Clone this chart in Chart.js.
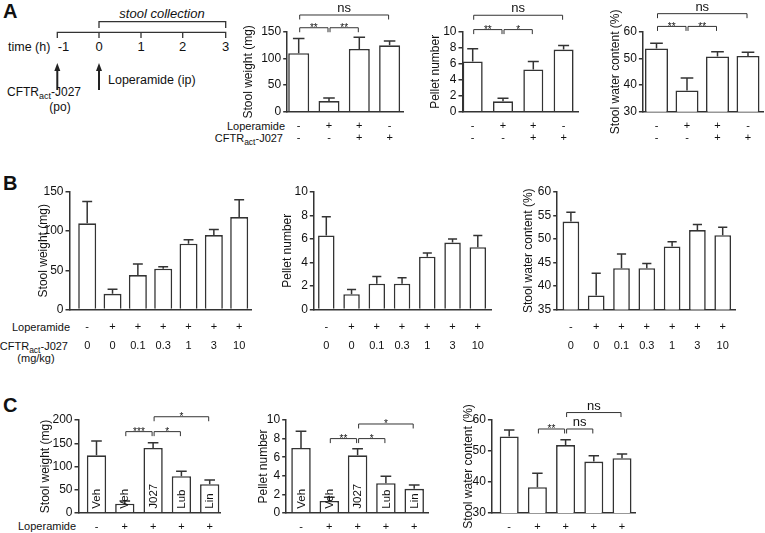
<!DOCTYPE html>
<html><head><meta charset="utf-8">
<script src="https://cdn.jsdelivr.net/npm/chart.js@4"></script>
<style>
body{margin:0;background:#fff;width:765px;height:533px;position:relative;overflow:hidden;font-family:"Liberation Sans",Arial,sans-serif;color:#111}
canvas{position:absolute}
svg{position:absolute;left:0;top:0}
</style></head><body>
<svg width="765" height="533" font-family="Liberation Sans, Arial, sans-serif" fill="#111">
  <text x="3" y="18" font-weight="bold" font-size="20">A</text>
  <text x="3" y="190" font-weight="bold" font-size="20">B</text>
  <text x="3" y="412" font-weight="bold" font-size="20">C</text>
  <text x="162" y="17.5" font-style="italic" font-size="13" text-anchor="middle">stool collection</text>
  <path d="M99,28V21.7H225.7V28" stroke="#333" stroke-width="1.3" fill="none"/>
  <path d="M57.3,38V32.3H225.7V38M99,32.3V38M141,32.3V38M182.7,32.3V38" stroke="#333" stroke-width="1.3" fill="none"/>
  <text x="8" y="50.5" font-size="12.5">time (h)</text>
  <text x="63.5" y="50.5" font-size="13" text-anchor="middle">-1</text>
  <text x="99" y="50.5" font-size="13" text-anchor="middle">0</text>
  <text x="141" y="50.5" font-size="13" text-anchor="middle">1</text>
  <text x="182.7" y="50.5" font-size="13" text-anchor="middle">2</text>
  <text x="225.7" y="50.5" font-size="13" text-anchor="middle">3</text>
  <path d="M57.3,90V69M99,90V69" stroke="#222" stroke-width="2" fill="none"/>
  <polygon points="57.3,63 54.3,71 60.3,71" fill="#222"/>
  <polygon points="99,63 96,71 102,71" fill="#222"/>
  <text x="108" y="84" font-size="12.5">Loperamide (ip)</text>
  <text x="7" y="95.5" font-size="12">CFTR<tspan font-size="9" dy="3">act</tspan><tspan dy="-3">-J027</tspan></text>
  <text x="60" y="110.5" font-size="12" text-anchor="middle">(po)</text>
  <text x="285" y="129.5" font-size="11" text-anchor="end">Loperamide</text>
  <text x="283" y="142" font-size="11" text-anchor="end">CFTR<tspan font-size="8.5" dy="3">act</tspan><tspan dy="-3">-J027</tspan></text>
  <text x="70" y="331" font-size="11" text-anchor="end">Loperamide</text>
  <text x="68" y="350" font-size="11" text-anchor="end">CFTR<tspan font-size="8.5" dy="3">act</tspan><tspan dy="-3">-J027</tspan></text>
  <text x="36" y="362" font-size="11" text-anchor="middle">(mg/kg)</text>
  <text x="18" y="529.5" font-size="11">Loperamide</text>
</svg>
<script>
// ---------- DATA ----------
const groupsA = [['-','-'],['+','-'],['+','+'],['-','+']];
const weightA = [110, 20, 118, 125];
const weightA_err = [28, 6, 22, 8];
const pelletA = [6.3, 1.3, 5.3, 7.8];
const pelletA_err = [1.6, 0.4, 1.0, 0.5];
const waterA = [53.8, 38, 50.8, 51];
const waterA_err = [2, 4.7, 1.8, 1.4];
const sigA_weight = [[0,1,'**',158],[1,2,'**',158],[0,3,'ns',182]];
const sigA_pellet = [[0,1,'**',10.3],[1,2,'*',10.3],[0,3,'ns',12.1]];
const sigA_water = [[0,1,'**',62.1],[1,2,'**',62.1],[0,3,'ns',66.9]];

const groupsB = [['-','0'],['+','0'],['+','0.1'],['+','0.3'],['+','1'],['+','3'],['+','10']];
const weightB = [110, 20, 44, 52, 84, 95, 118];
const weightB_err = [28, 6, 14, 2.5, 5, 7, 22];
const pelletB = [6.3, 1.3, 2.2, 2.2, 4.5, 5.7, 5.3];
const pelletB_err = [1.6, 0.4, 0.6, 0.5, 0.3, 0.3, 1.0];
const waterB = [53.7, 38, 43.8, 43.8, 48.4, 51.9, 50.8];
const waterB_err = [2, 4.7, 3, 1, 1, 1.2, 1.7];

const groupsC = ['-','+','+','+','+'];
const treatC = ['Veh','Veh','J027','Lub','Lin'];
const weightC = [124, 20, 140, 79, 62];
const weightC_err = [31, 6, 11, 11, 9];
const pelletC = [7.0, 1.3, 6.2, 3.2, 2.6];
const pelletC_err = [1.8, 0.4, 0.7, 0.75, 0.4];
const waterC = [54.7, 38.3, 51.9, 46.6, 47.7];
const waterC_err = [2.1, 4.5, 1.7, 1.9, 1.3];
const sigC_weight = [[1,2,'***',175],[2,3,'*',175],[2,4,'*',207]];
const sigC_pellet = [[1,2,'**',8.0],[2,3,'*',8.0],[2,4,'*',9.57]];
const sigC_water = [[1,2,'**',57.1],[2,3,'ns',57.1],[2,4,'ns',62.4]];

// ---------- STYLE / LAYOUT ----------
const F = '"Liberation Sans", Arial, sans-serif';
const INK = '#333';
const TXT = '#111';

const annot = {
  id: 'annot',
  afterDatasetsDraw(chart, args, o) {
    const ctx = chart.ctx, meta = chart.getDatasetMeta(0), ys = chart.scales.y;
    const vals = chart.data.datasets[0].data;
    ctx.save();
    ctx.strokeStyle = INK; ctx.fillStyle = TXT; ctx.lineWidth = 1.5;
    meta.data.forEach((bar, i) => {
      const e = o.errs[i];
      const yt = ys.getPixelForValue(vals[i].y + e);
      const cw = bar.width * 0.55;
      ctx.beginPath();
      ctx.moveTo(bar.x, bar.y); ctx.lineTo(bar.x, yt);
      ctx.moveTo(bar.x - cw / 2, yt); ctx.lineTo(bar.x + cw / 2, yt);
      ctx.stroke();
      if (o.barText) {
        ctx.save();
        ctx.translate(bar.x, bar.base - 3.5);
        ctx.rotate(-Math.PI / 2);
        ctx.font = '11.5px ' + F;
        ctx.textAlign = 'left'; ctx.textBaseline = 'middle';
        ctx.fillText(o.barText[i], 0, 0.5);
        ctx.restore();
      }
    });
    ctx.lineWidth = 1;
    (o.sig || []).forEach(([a, b, lab, lv]) => {
      const xa = meta.data[a].x + 1, xb = meta.data[b].x - 1, y = ys.getPixelForValue(lv);
      ctx.beginPath();
      ctx.moveTo(xa, y + 4.5); ctx.lineTo(xa, y); ctx.lineTo(xb, y); ctx.lineTo(xb, y + 4.5);
      ctx.stroke();
      ctx.textAlign = 'center'; ctx.textBaseline = 'alphabetic';
      if (lab === 'ns') { ctx.font = '13px ' + F; ctx.fillText(lab, (xa + xb) / 2, y - 3); }
      else { ctx.font = '10px ' + F; ctx.fillText(lab, (xa + xb) / 2, y + 3.5); }
    });
    ctx.restore();
  }
};

function build(L, D) {
  const left = L.titleX - 7.2;
  const top = Math.max(0, L.top - 36);
  const right = L.xEnd + 8;
  const bottom = Math.min(533, L.bottom + 48);
  const cv = document.createElement('canvas');
  cv.width = Math.round(right - left); cv.height = Math.round(bottom - top);
  cv.style.left = left + 'px'; cv.style.top = top + 'px';
  document.body.appendChild(cv);
  const W = cv.width, H = cv.height;
  const Wy = L.axisX - left, padTop = L.top - top, padRight = W - (L.xEnd - left), Hx = H - (L.bottom - top);
  new Chart(cv, {
    type: 'bar',
    data: { datasets: [{
      data: D.values.map((v, i) => ({ x: i, y: v })),
      backgroundColor: '#fff', borderColor: INK, borderWidth: 1.6,
      barPercentage: L.barW / L.step, categoryPercentage: 1
    }] },
    options: {
      responsive: false, animation: false, events: [],
      layout: { padding: { left: 0, top: padTop, right: padRight, bottom: 0 } },
      plugins: { legend: { display: false }, tooltip: { enabled: false },
        annot: { errs: D.errs, sig: D.sig, barText: D.barText } },
      scales: {
        x: {
          type: 'linear', offset: false,
          min: (L.axisX - L.c0) / L.step, max: (L.xEnd - L.c0) / L.step,
          afterBuildTicks: s => { s.ticks = D.labels.map((_, i) => ({ value: i })); },
          afterFit: s => { s.height = Hx; },
          grid: { display: false, drawTicks: false, tickLength: 0 },
          border: { display: true, color: INK, width: 1.5 },
          ticks: { autoSkip: false, maxRotation: 0, minRotation: 0, padding: L.rowPad, color: TXT,
            font: { family: F, size: 11, lineHeight: L.rowLH + 'px' },
            callback: v => D.labels[v] }
        },
        y: {
          min: D.ymin, max: D.ymax,
          afterFit: s => { s.width = Wy; },
          ticks: { stepSize: D.ystep, autoSkip: false, padding: 2, color: TXT, font: { family: F, size: 12 } },
          grid: { drawOnChartArea: false, drawTicks: true, tickLength: 4, color: INK, lineWidth: 1.5 },
          border: { display: true, color: INK, width: 1.5 },
          title: { display: true, text: D.title, color: TXT, padding: 0, font: { family: F, size: 12 } }
        }
      }
    },
    plugins: [annot]
  });
}

// layout of each panel (pixel placement only)
const LA = { top: 32, bottom: 111.7, rowPad: 7.85, rowLH: 12.3 };
const LB = { top: 192, bottom: 309.5, rowPad: 8, rowLH: 19 };
const LC = { top: 419.5, bottom: 512.5, rowPad: 7.5, rowLH: 13 };

build({ ...LA, axisX: 287, xEnd: 403, c0: 298.5, step: 30.3, barW: 21, titleX: 248 },
  { values: weightA, errs: weightA_err, labels: groupsA, sig: sigA_weight, ymin: 0, ymax: 150, ystep: 50, title: 'Stool weight (mg)' });
build({ ...LA, axisX: 462.3, xEnd: 578, c0: 472.5, step: 30.3, barW: 20, titleX: 435 },
  { values: pelletA, errs: pelletA_err, labels: groupsA, sig: sigA_pellet, ymin: 0, ymax: 10, ystep: 2, title: 'Pellet number' });
build({ ...LA, axisX: 642.7, xEnd: 763, c0: 656.3, step: 30.5, barW: 23, titleX: 615 },
  { values: waterA, errs: waterA_err, labels: groupsA, sig: sigA_water, ymin: 30, ymax: 60, ystep: 10, title: 'Stool water content (%)' });

build({ ...LB, axisX: 69, xEnd: 250.7, c0: 86.7, step: 25.33, barW: 18, titleX: 42.7 },
  { values: weightB, errs: weightB_err, labels: groupsB, ymin: 0, ymax: 150, ystep: 50, title: 'Stool weight (mg)' });
build({ ...LB, axisX: 313.3, xEnd: 491, c0: 325.8, step: 25.25, barW: 16.5, titleX: 286.7 },
  { values: pelletB, errs: pelletB_err, labels: groupsB, ymin: 0, ymax: 10, ystep: 2, title: 'Pellet number' });
build({ ...LB, axisX: 557.3, xEnd: 736, c0: 571, step: 25.3, barW: 16.7, titleX: 528.3 },
  { values: waterB, errs: waterB_err, labels: groupsB, ymin: 35, ymax: 60, ystep: 5, title: 'Stool water content (%)' });

build({ ...LC, axisX: 78.3, xEnd: 220, c0: 96.3, step: 28.3, barW: 19.3, titleX: 45 },
  { values: weightC, errs: weightC_err, labels: groupsC, barText: treatC, sig: sigC_weight, ymin: 0, ymax: 200, ystep: 50, title: 'Stool weight (mg)' });
build({ ...LC, axisX: 286, xEnd: 428.3, c0: 300.8, step: 28.3, barW: 19.5, titleX: 263 },
  { values: pelletC, errs: pelletC_err, labels: groupsC, barText: treatC, sig: sigC_pellet, ymin: 0, ymax: 10, ystep: 2, title: 'Pellet number' });
build({ ...LC, axisX: 492, xEnd: 636, c0: 509.3, step: 28.2, barW: 19, titleX: 468.3 },
  { values: waterC, errs: waterC_err, labels: groupsC, barText: treatC, sig: sigC_water, ymin: 30, ymax: 60, ystep: 10, title: 'Stool water content (%)' });
</script>
</body></html>
